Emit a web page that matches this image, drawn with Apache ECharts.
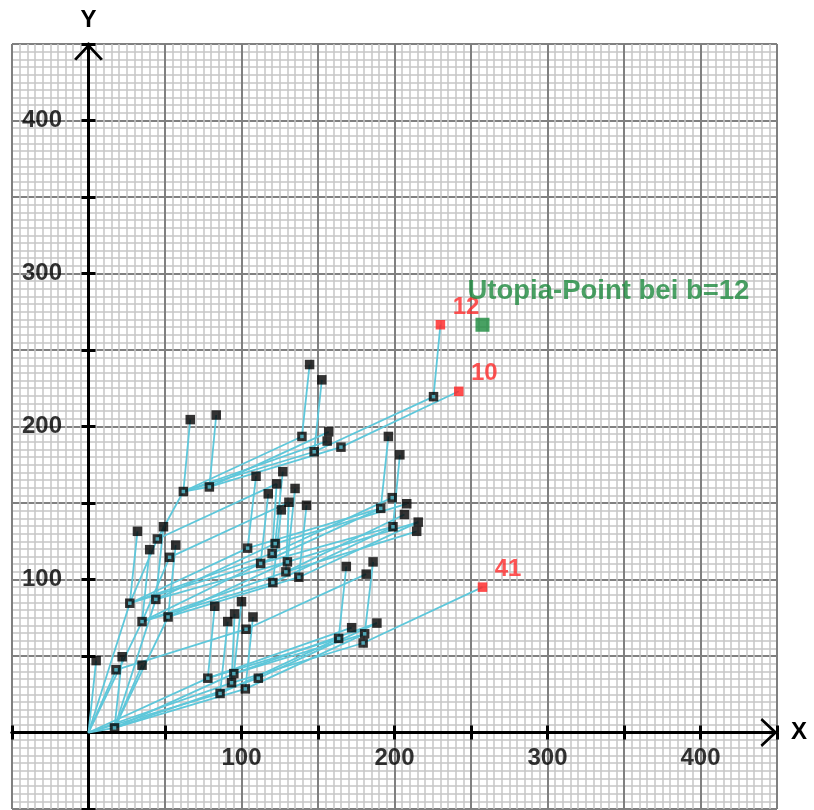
<!DOCTYPE html>
<html><head><meta charset="utf-8">
<script src="https://cdn.jsdelivr.net/npm/echarts@6/dist/echarts.min.js"></script>
<style>html,body{margin:0;padding:0;background:#fff}#c{width:814px;height:810px}</style>
</head><body><div id="c"></div>
<script>
// ---- data ----
const pointX = [0,17,5,22,18,35,27,44,35,52,32,49,45,40,57,53,62,79,66.5,83.5,82.5,100,95.5,91,103,107.5,78,95,93.5,86,102.5,111,104,109.5,127,123,117.5,135,131,126,142.5,122,120,112.5,130,129,120.5,137.5,139.5,157,156,147.5,165,144.5,152.5,196,203.5,191,198.5,208,206.5,199,215.5,214.5,168.5,186,181.5,163.5,172,180.5,188.5,179.5,225.5,230,242,257.5];
const pointY = [0,3,47,49.5,41,44,84.5,87,72.5,75.5,131.5,134.5,126.5,119.5,122.5,114.5,157.5,160.5,204.5,207.5,82.5,85.5,77.5,72.5,67.5,75.5,35.5,38.5,32.5,25.5,28.5,35.5,120.5,167.5,170.5,162.5,156,159.5,150.5,145.5,148.5,123.5,117,110.5,111.5,105,98,101.5,193.5,196.5,190.5,183.5,186.5,240.5,230.5,193.5,181.5,146.5,153.5,149.5,142.5,134.5,137.5,131.5,108.5,111.5,103.5,61.5,68.5,64.5,71.5,58.5,219.5,266.5,223,95];
// n = none, b = black leaf, c = black with cyan centre, r = red highlighted
const pointKind = ['n','c','b','b','c','b','c','c','c','c','b','b','c','b','b','c','c','c','b','b','b','b','b','b','c','b','c','c','c','c','c','c','c','b','b','b','b','b','b','b','b','c','c','c','c','c','c','c','c','b','b','c','c','b','b','b','b','c','c','b','b','c','b','b','b','b','b','c','b','c','b','c','c','r','r','r'];
const edgeFrom = [0,0,0,0,0,0,0,0, 1,1,1,1,1,1,1, 4, 6,6,6,6,6, 7,7,7, 8,8,8,8,8, 9,9,9, 12,12, 15, 16,16,16,16,16, 17,17,17, 48,51,51,52,72, 26,27,28,29,30, 24, 26,29,27,30,28,26,27,31,71,67,69, 32,43,42,41,45,46,43,47,44,45,57,61, 32,41,42,43,44,45,46,47];
const edgeTo   = [1,2,4,6,8,26,28,29, 3,5,7,9,27,30,31, 24, 10,12,32,42,43, 11,41,44, 13,15,45,46,43, 14,47,44, 16,35, 38, 17,18,48,50,51, 19,49,52, 53,54,72,74,73, 20,21,22,23,25, 66, 67,67,69,69,71,68,70,70,75,64,65, 57,57,58,59,60,61,61,62,62,63,55,56, 33,34,35,36,37,38,39,40];
const redIndex = [73,74,75];
const redText = ['12','10','41'];
const utopiaX = 257.5, utopiaY = 266.5;
const utopiaText = 'Utopia-Point bei b=12';
const tickLabels = [100,200,300,400];

// ---- chart ----
const chart = echarts.init(document.getElementById('c'), null, {renderer:'canvas'});
const LINE = '#5ec7da';
const chevron = 'path://M0,16 L15,0 L30,16 L27.6,17.6 L15,4.2 L2.4,17.6 Z';
const labelFont = {fontFamily:'Liberation Sans, Arial', fontWeight:'bold', fontSize:24, color:'#000'};

function mkX(main){
  return {
    type:'value', gridIndex:0, position:'bottom', min:-50, max:450, interval:50,
    axisLine:{show:true, onZero:true, lineStyle:{color:'#000', width:3},
      symbol: main ? ['none', chevron] : ['none','none'], symbolSize:[30,17], symbolOffset:[0,-8]},
    axisTick:{show:true, inside:!main, length:7, lineStyle:{color:'#000', width:3}},
    axisLabel:{show:false},
    splitLine:{show:main, lineStyle:{color:'#808080', width:2}},
    minorTick:{show:false, splitNumber:10},
    minorSplitLine:{show:main, lineStyle:{color:'#c6c6c6', width:1.5}},
    name: main ? 'X' : '', nameLocation:'end', nameGap:14,
    nameTextStyle:{fontFamily:'Liberation Sans, Arial', fontWeight:'bold', fontSize:24, color:'#000'},
    z: main ? 5 : 6
  };
}
function mkY(main){
  return {
    type:'value', gridIndex:0, position:'left', min:-50, max:450, interval:50,
    axisLine:{show:true, onZero:true, lineStyle:{color:'#000', width:3},
      symbol: main ? ['none', chevron] : ['none','none'], symbolSize:[30,17], symbolOffset:[0,-8]},
    axisTick:{show:true, inside:!main, length:7, lineStyle:{color:'#000', width:3}},
    axisLabel:{show:false},
    splitLine:{show:main, lineStyle:{color:'#808080', width:2}},
    minorTick:{show:false, splitNumber:10},
    minorSplitLine:{show:main, lineStyle:{color:'#c6c6c6', width:1.5}},
    name: main ? 'Y' : '', nameLocation:'end', nameGap:12,
    nameTextStyle:{fontFamily:'Liberation Sans, Arial', fontWeight:'bold', fontSize:24, color:'#000', align:'center'},
    z: main ? 5 : 6
  };
}

const lineData = edgeFrom.map((f,i) => ({coords:[[pointX[f],pointY[f]],[pointX[edgeTo[i]],pointY[edgeTo[i]]]]}));
const blackData = [], cyanData = [];
pointKind.forEach((k,i) => {
  if (k === 'b' || k === 'c') blackData.push([pointX[i], pointY[i]]);
  if (k === 'c') cyanData.push([pointX[i], pointY[i]]);
});
const redData = redIndex.map((idx,j) => ({value:[pointX[idx], pointY[idx]], label:{formatter:redText[j]}}));

chart.setOption({
  animation:false,
  backgroundColor:'#fff',
  grid:{left:12, top:44, width:765, height:765, containLabel:false, outerBoundsMode:'none'},
  xAxis:[mkX(true), mkX(false)],
  yAxis:[mkY(true), mkY(false)],
  series:[
    {type:'lines', coordinateSystem:'cartesian2d', xAxisIndex:0, yAxisIndex:0, data:lineData, silent:true,
     lineStyle:{color:LINE, width:1.8, opacity:1}, z:10},
    {type:'scatter', xAxisIndex:0, yAxisIndex:0, data:blackData, symbol:'rect', symbolSize:9.5,
     itemStyle:{color:'#000'}, silent:true, z:11},
    {type:'scatter', xAxisIndex:0, yAxisIndex:0, data:cyanData, symbol:'rect', symbolSize:3.5,
     itemStyle:{color:LINE}, silent:true, z:12},
    {type:'scatter', xAxisIndex:0, yAxisIndex:0, data:redData, symbol:'rect', symbolSize:9.5,
     itemStyle:{color:'#ff2020'}, silent:true, z:13,
     label:{show:true, position:[17,-25], fontFamily:'Liberation Sans, Arial', fontWeight:'bold', fontSize:24, color:'#ff2a2a'}},
    {type:'scatter', xAxisIndex:0, yAxisIndex:0, data:[[utopiaX, utopiaY]], symbol:'rect', symbolSize:14,
     itemStyle:{color:'#1a8a3c'}, silent:true, z:13,
     label:{show:true, formatter:utopiaText, position:[-8,-40], fontFamily:'Liberation Sans, Arial', fontWeight:'bold', fontSize:27.5, color:'#1e8a3e'}},
    // tick labels on the x axis
    {type:'scatter', xAxisIndex:0, yAxisIndex:0, data:tickLabels.map(v => [v, 0]), symbolSize:1,
     itemStyle:{color:'rgba(0,0,0,0)'}, silent:true, z:14,
     label:{show:true, position:'bottom', distance:13, formatter:p => String(p.value[0]), ...labelFont}},
    // tick labels on the y axis
    {type:'scatter', xAxisIndex:0, yAxisIndex:0, data:tickLabels.map(v => [0, v]), symbolSize:1,
     itemStyle:{color:'rgba(0,0,0,0)'}, silent:true, z:14,
     label:{show:true, position:'left', distance:26, formatter:p => String(p.value[1]), ...labelFont}}
  ]
});
</script></body></html>
